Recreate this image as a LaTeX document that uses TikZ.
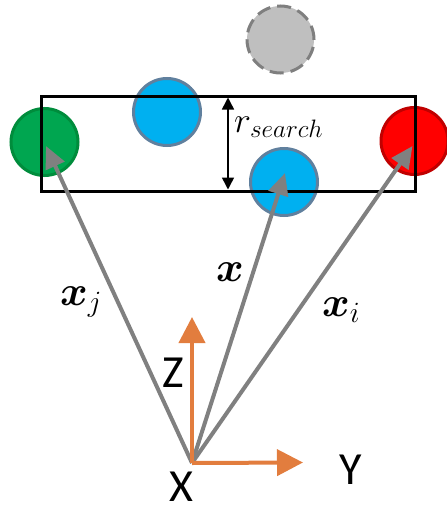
\RequirePackage{fix-cm}
\documentclass[tikz,border=0pt]{standalone}
\usepackage{amsmath,bm}
\usepackage{fontspec}
\newfontfamily\axfont{Carlito}
\usetikzlibrary{arrows.meta}
\definecolor{gfill}{RGB}{0,166,80}
\definecolor{gline}{RGB}{0,140,60}
\definecolor{bfill}{RGB}{0,176,240}
\definecolor{bline}{RGB}{96,128,158}
\definecolor{rfill}{RGB}{255,0,0}
\definecolor{rline}{RGB}{192,0,0}
\definecolor{cfill}{RGB}{191,191,191}
\definecolor{cline}{RGB}{127,127,127}
\definecolor{orng}{RGB}{226,125,62}
\definecolor{vgray}{RGB}{128,128,128}
\tikzset{
  ball/.style={circle, minimum size=67pt, inner sep=0pt, line width=3pt},
  vec/.style={draw=vgray, line width=4pt, -{Triangle[length=22pt,width=20pt]}},
  axis/.style={draw=orng, line width=4pt, -{Triangle[length=26pt,width=26pt]}},
  axlabel/.style={inner sep=0pt, font=\axfont\fontsize{46}{50}\selectfont},
  mlabel/.style={inner sep=0pt, anchor=base west, font=\fontsize{42}{48}\selectfont},
}
\begin{document}
\begin{tikzpicture}[x=1pt,y=-1pt]
\useasboundingbox (0,0) rectangle (447,506);
% circles
\node[ball, fill=cfill, draw=cline, dash pattern=on 14pt off 7pt] (gc) at (280.5,39.5) {};
\node[ball, fill=bfill, draw=bline] (bt) at (167,112) {};
\node[ball, fill=gfill, draw=gline] (gr) at (44.5,142) {};
\node[ball, fill=rfill, draw=rline] (rd) at (414.5,141) {};
\node[ball, fill=bfill, draw=bline] (bb) at (284,182) {};
% search box
\node[draw=black, line width=3pt, minimum width=374pt, minimum height=95pt, inner sep=0pt] (box) at (228,143.5) {};
\coordinate (rt) at (228,97.5);
\coordinate (rb) at (228,189.5);
\draw[line width=1.5pt, {Triangle[length=12pt,width=12pt]}-{Triangle[length=12pt,width=12pt]}] (rt) -- (rb);
\node[inner sep=0pt, anchor=base west, font=\fontsize{36}{42}\selectfont] (rs) at (234,132) {$r_{search}$};
% vectors
\coordinate (o) at (192,463);
\coordinate (tj) at (46,146);
\coordinate (tx) at (285,173);
\coordinate (ti) at (412.5,146);
\draw[vec] (o) -- (tj);
\draw[vec] (o) -- (tx);
\draw[vec] (o) -- (ti);
% axes
\coordinate (zt) at (192,317);
\coordinate (yt) at (303,462.5);
\draw[axis] (o) -- (zt);
\draw[axis] (o) -- (yt);
\node[axlabel] (zl) at (173,373) {Z};
\node[axlabel] (yl) at (351,470) {Y};
\node[axlabel] (xl) at (181,487) {X};
% vector labels
\node[mlabel] (lj) at (60,305) {$\bm{x}_j$};
\node[mlabel] (lx) at (216,281) {$\bm{x}$};
\node[mlabel] (li) at (322,316) {$\bm{x}_i$};
\end{tikzpicture}
\end{document}
